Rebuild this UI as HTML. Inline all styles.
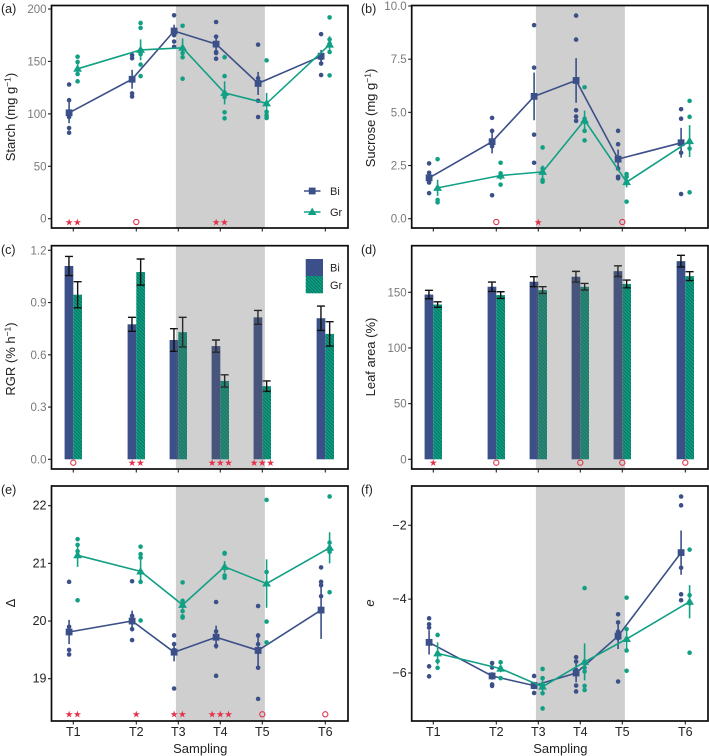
<!DOCTYPE html>
<html lang="en">
<head>
<meta charset="utf-8">
<title>Sampling time course panels</title>
<style>
html,body{margin:0;padding:0;background:#fff;width:709px;height:756px;overflow:hidden}
svg{display:block;font-family:"Liberation Sans",Arial,sans-serif;filter:blur(0.35px)}
</style>
</head>
<body>
<svg id="figure" xmlns="http://www.w3.org/2000/svg" width="709" height="756" viewBox="0 0 709 756">
<defs>
<pattern id="hatch" patternUnits="userSpaceOnUse" width="2.4" height="2.4" patternTransform="rotate(45)">
<rect width="2.4" height="2.4" fill="#0aa184"></rect>
<rect width="2.4" height="0.9" fill="#0b6e5c"></rect>
</pattern>
</defs>
</svg>
<script>
/* shared categories */
var samplingLabels = ['T1','T2','T3','T4','T5','T6'];
var samplingTimes = [1,2.5,3.5,4.5,5.5,7];

/* (a) starch */
var starchTicks = [0,50,100,150,200];
var starchBiMean = [101,133,179,166.5,129,155];
var starchBiErr = [10,9,6,8,11,6];
var starchBiPoints = [[128,113,100,97,86.5,82],[156,153,133,119.5,116.5],[194,177,175,169,164],[187.6,173.6,159,158,152.6],[166,129,134,112.5,97],[176,156,153,148,137]];
var starchGrMean = [143,161,163,120,110,166];
var starchGrErr = [5,10,9,11,10,8];
var starchGrPoints = [[154.5,149.5,142.5,138,131],[186.7,182,161,157,147,136],[184,162.5,158,154,133.5],[154,136,120,116,101.5,95.7],[151,102,99,97,96],[192,171,167,159,136.7]];
var starchSig = ['**','o','','**','',''];

/* (b) sucrose */
var sucroseTicks = [0,2.5,5,7.5,10];
var sucroseTickLabels = ['0.0','2.5','5.0','7.5','10.0'];
var sucroseBiMean = [1.92,3.62,5.75,6.5,2.8,3.57];
var sucroseBiErr = [0.2,0.55,1.12,1.05,0.45,0.7];
var sucroseBiPoints = [[2.6,2.16,1.9,1.8,1.7,1.2],[4.74,4.13,3.6,3.4,1.1],[9.1,7.1,5.75,3.95,2.63],[9.55,8.42,5.1,4.8,4.6],[4.13,3.5,2.36,1.97,1.9],[5.15,4.7,3.55,3.1,1.16]];
var sucroseGrMean = [1.45,2.03,2.2,4.63,1.72,3.65];
var sucroseGrErr = [0.38,0.2,0.3,0.45,0.25,0.75];
var sucroseGrPoints = [[2.8,1.43,0.88,0.77],[2.63,2.13,1.97,1.6],[3.35,2.36,2.2,1.82,1.74],[6.18,4.7,4.55,4.13,3.68],[2.1,1.97,1.75,0.8],[5.54,4.79,3.6,3.3,1.24]];
var sucroseSig = ['','o','*','','o',''];

/* (c) RGR */
var rgrTicks = [0,0.3,0.6,0.9,1.2];
var rgrTickLabels = ['0.0','0.3','0.6','0.9','1.2'];
var rgrBi = [1.11,0.775,0.685,0.65,0.815,0.81];
var rgrBiErr = [0.055,0.04,0.065,0.035,0.04,0.07];
var rgrGr = [0.945,1.075,0.73,0.45,0.42,0.72];
var rgrGrErr = [0.075,0.075,0.085,0.035,0.03,0.07];
var rgrSig = ['o','**','','***','***',''];

/* (d) leaf area */
var leafTicks = [0,50,100,150];
var leafBi = [148,155,159.5,164,169,178];
var leafBiErr = [3.8,4.2,4.5,4.8,4.8,5.2];
var leafGr = [139,147.5,152,155,157.5,164.5];
var leafGrErr = [2.5,3,3,3,3.5,4];
var leafSig = ['*','o','','o','o','o'];

/* (e) delta */
var deltaTicks = [19,20,21,22];
var deltaBiMean = [19.81,20,19.46,19.72,19.49,20.19];
var deltaBiErr = [0.21,0.18,0.16,0.2,0.3,0.5];
var deltaBiPoints = [[20.68,19.9,19.8,19.5,19.42],[20.69,20.09,20,19.86,19.67],[19.75,19.6,19.5,19.45,18.83],[20.33,19.82,19.7,19.57,19.05],[20.26,19.75,19.6,19.19,18.65],[20.93,20.68,20.62,20.43,20.19]];
var deltaGrMean = [21.14,20.86,20.28,20.94,20.65,21.27];
var deltaGrErr = [0.2,0.22,0.1,0.1,0.42,0.27];
var deltaGrPoints = [[21.42,21.32,21.21,21.14,20.36],[21.29,21.16,21.1,20.68,20.01],[20.67,20.35,20.27,20.17,20.08,20.06],[21.18,21.17,20.79,20.75],[22.1,20.85,19.99,19.63],[22.16,21.36,21.23,21.2,20.5]];
var deltaSig = ['**','*','**','***','o','o'];

/* (f) e */
var eTicks = [-6,-4,-2];
var eTickLabels = ['\u22126','\u22124','\u22122'];
var eBiMean = [-5.17,-6.08,-6.34,-6,-5,-2.74];
var eBiErr = [0.33,0.1,0.1,0.25,0.35,0.6];
var eBiPoints = [[-4.52,-4.68,-4.77,-5.82,-6.09],[-5.73,-5.85,-6.05,-6.1,-6.31,-6.35],[-6.08,-6.32,-6.36,-6.54],[-5.57,-5.69,-5.92,-6.34,-6.5],[-4.41,-4.63,-4.88,-5.06,-6.23],[-1.22,-1.46,-3.15,-3.87,-4.03]];
var eGrMean = [-5.47,-5.88,-6.37,-5.7,-5.08,-4.07];
var eGrErr = [0.3,0.1,0.2,0.5,0.3,0.45];
var eGrPoints = [[-4.97,-5.47,-5.68,-5.86],[-5.71,-5.87,-6.14],[-5.89,-6.14,-6.3,-6.55,-6.96],[-3.7,-5.86,-5.96,-6.35,-6.46],[-3.96,-4.81,-5.39,-5.94],[-2.66,-3.89,-4.11,-5.45]];

var BI = '#3b5088', GR = '#12a085', RED = '#e4314a';
var svg = document.getElementById('figure');
var NS = 'http://www.w3.org/2000/svg';

function make(parent, tag, attrs, text) {
  var el = document.createElementNS(NS, tag);
  for (var k in attrs) el.setAttribute(k, attrs[k]);
  if (text !== undefined) el.textContent = text;
  parent.appendChild(el);
  return el;
}

function makeAxes(left, right, top, bottom, t1x, v1, py1, v2, py2) {
  return {
    left: left, right: right, top: top, bottom: bottom,
    x: function (t) { return t1x + (t - 1) * 42; },
    y: function (v) { return py1 + (v - v1) * (py2 - py1) / (v2 - v1); }
  };
}

function panelGroup(name) {
  var g = make(svg, 'g', {});
  
  
  return g;
}

function drawShade(g, ax, fill) {
  var r = make(g, 'rect', {x: ax.x(3.5) - 2.4, y: ax.top, width: ax.x(5.5) - ax.x(3.5) + 5, height: ax.bottom - ax.top, fill: fill});
  
  
}

function drawFrame(g, ax, ticks, tickLabels, tickColor, showX) {
  ticks.forEach(function (v, i) {
    var py = ax.y(v);
    var tk = make(g, 'line', {x1: ax.left - 3.5, x2: ax.left, y1: py, y2: py, stroke: '#222', 'stroke-width': 1.1});
    
    
    var lb = make(g, 'text', {x: ax.left - 5, y: py + 4, 'text-anchor': 'end', 'font-size': tickColor === '#222' ? 12.5 : 11.5, fill: tickColor}, tickLabels ? tickLabels[i] : String(v));
    
    
  });
  samplingTimes.forEach(function (t, i) {
    var px = ax.x(t);
    var tk = make(g, 'line', {x1: px, x2: px, y1: ax.bottom, y2: ax.bottom + 3.5, stroke: '#222', 'stroke-width': 1.1});
    
    
    if (showX) {
      var lb = make(g, 'text', {x: px, y: ax.bottom + 15, 'text-anchor': 'middle', 'font-size': 12.5, fill: '#222'}, samplingLabels[i]);
      
      
    }
  });
  var f = make(g, 'rect', {x: ax.left, y: ax.top, width: ax.right - ax.left, height: ax.bottom - ax.top, fill: 'none', stroke: '#0c0c0c', 'stroke-width': 1.7});
  
  
  if (showX) {
    var st = make(g, 'text', {x: (ax.left + ax.right) / 2 + 0.5, y: ax.bottom + 32, 'text-anchor': 'middle', 'font-size': 13, fill: '#222'}, 'Sampling');
    
    
  }
}

function drawSeries(g, ax, name, color, marker, offset, means, errs, points) {
  var px = function (i) { return ax.x(samplingTimes[i]) + offset; };
  points.forEach(function (arr, i) {
    arr.forEach(function (v) {
      var c = make(g, 'circle', {cx: px(i), cy: ax.y(v), r: 2.3, fill: color});
      
      
    });
  });
  var d = means.map(function (v, i) { return px(i).toFixed(1) + ',' + ax.y(v).toFixed(1); }).join(' ');
  var pl = make(g, 'polyline', {points: d, fill: 'none', stroke: color, 'stroke-width': 1.6});
  
  
  means.forEach(function (v, i) {
    var eb = make(g, 'line', {x1: px(i), x2: px(i), y1: ax.y(v - errs[i]), y2: ax.y(v + errs[i]), stroke: color, 'stroke-width': 1.6});
    
    
    var m = drawMarker(g, marker, px(i), ax.y(v), color);
    
    
  });
}

function drawMarker(g, marker, x, y, color) {
  if (marker === 'square') {
    return make(g, 'rect', {x: x - 3.4, y: y - 3.4, width: 6.8, height: 6.8, fill: color});
  }
  return make(g, 'polygon', {points: x + ',' + (y - 4.4) + ' ' + (x + 4.4) + ',' + (y + 3) + ' ' + (x - 4.4) + ',' + (y + 3), fill: color});
}

function drawBars(g, ax, name, fill, side, vals, errs) {
  var w = 8.7;
  vals.forEach(function (v, i) {
    var cx = ax.x(samplingTimes[i]);
    var x0 = side < 0 ? cx - w : cx;
    var b = make(g, 'rect', {x: x0, y: ax.y(v), width: w, height: ax.y(0) - ax.y(v), fill: fill});
    
    
  });
}

function drawBarErrors(g, ax, name, side, vals, errs) {
  var w = 8.7;
  vals.forEach(function (v, i) {
    var mx = ax.x(samplingTimes[i]) + side * w / 2;
    var hi = ax.y(v + errs[i]), lo = ax.y(v - errs[i]);
    var path = 'M' + (mx - 4) + ' ' + hi + 'H' + (mx + 4) + 'M' + mx + ' ' + hi + 'V' + lo + 'M' + (mx - 4) + ' ' + lo + 'H' + (mx + 4);
    var e = make(g, 'path', {d: path, fill: 'none', stroke: '#111', 'stroke-width': 1.4});
    
    
  });
}

function drawSig(g, ax, sig, y) {
  sig.forEach(function (s, i) {
    var cx = ax.x(samplingTimes[i]);
    if (s === 'o') {
      var c = make(g, 'circle', {cx: cx, cy: y, r: 2.6, fill: 'none', stroke: RED, 'stroke-width': 1.1});
      
      
    } else if (s) {
      var n = s.length;
      for (var k = 0; k < n; k++) {
        var st = make(g, 'text', {x: cx + (k - (n - 1) / 2) * 8.2, y: y + 3.4, 'text-anchor': 'middle', 'font-size': 9.5, fill: RED, style: 'font-family:"DejaVu Sans",sans-serif'}, '\u2605');
        
        
      }
    }
  });
}

function drawTitle(g, x, y, build) {
  var t = make(g, 'text', {x: x, y: y, 'text-anchor': 'middle', 'font-size': 13, fill: '#222', transform: 'rotate(-90 ' + x + ' ' + y + ')'});
  
  
  build(t);
}

function titleWithUnit(before, after) {
  return function (t) {
    make(t, 'tspan', {}, before);
    make(t, 'tspan', {dy: -4.5, 'font-size': 8.5}, '\u22121');
    make(t, 'tspan', {dy: 4.5}, after);
  };
}

function plainTitle(s, italic) {
  return function (t) {
    var a = {};
    if (italic) a['font-style'] = 'italic';
    make(t, 'tspan', a, s);
  };
}

function drawLetter(g, x, y, s) {
  var t = make(g, 'text', {x: x, y: y, 'font-size': 12.5, fill: '#222'}, s);
  
  
}

function legendText(g, x, y, s) {
  var t = make(g, 'text', {x: x, y: y, 'font-size': 11, fill: '#222'}, s);
  
  
}

var OVER = 'rgba(100,100,100,0.3)';
var pg, ax;

/* panel a */
pg = panelGroup('panel-a-starch');
ax = makeAxes(51.5, 348, 5.5, 228, 73.3, 0, 218.7, 200, 9);
drawShade(pg, ax, '#cfcfcf');
drawSeries(pg, ax, 'bi', BI, 'square', -4.2, starchBiMean, starchBiErr, starchBiPoints);
drawSeries(pg, ax, 'gr', GR, 'triangle', 4.3, starchGrMean, starchGrErr, starchGrPoints);
drawSig(pg, ax, starchSig, 222);
drawFrame(pg, ax, starchTicks, null, '#7a7a7a', false);
drawTitle(pg, 15, 117, titleWithUnit('Starch (mg g', ')'));
drawLetter(pg, 1, 13, '(a)');
var lg = make(pg, 'g', {});


var l1 = make(lg, 'line', {x1: 304, x2: 320.5, y1: 191, y2: 191, stroke: BI, 'stroke-width': 1.6});


var m1 = drawMarker(lg, 'square', 312.2, 191, BI);


var l2 = make(lg, 'line', {x1: 304, x2: 320.5, y1: 212, y2: 212, stroke: GR, 'stroke-width': 1.6});


var m2 = drawMarker(lg, 'triangle', 312.2, 212, GR);


legendText(lg, 330, 195, 'Bi');
legendText(lg, 330, 216, 'Gr');

/* panel b */
pg = panelGroup('panel-b-sucrose');
ax = makeAxes(411.7, 708, 5.5, 228, 433.3, 0, 218.7, 10, 6);
drawShade(pg, ax, '#cfcfcf');
drawSeries(pg, ax, 'bi', BI, 'square', -4.2, sucroseBiMean, sucroseBiErr, sucroseBiPoints);
drawSeries(pg, ax, 'gr', GR, 'triangle', 4.3, sucroseGrMean, sucroseGrErr, sucroseGrPoints);
drawSig(pg, ax, sucroseSig, 222);
drawFrame(pg, ax, sucroseTicks, sucroseTickLabels, '#7a7a7a', false);
drawTitle(pg, 375, 118, titleWithUnit('Sucrose (mg g', ')'));
drawLetter(pg, 361, 13, '(b)');

/* panel c */
pg = panelGroup('panel-c-rgr');
ax = makeAxes(51.5, 348, 245.7, 469, 73.3, 0, 459.3, 1.2, 250.3);
drawBars(pg, ax, 'bi', BI, -1, rgrBi, rgrBiErr);
drawBars(pg, ax, 'gr', 'url(#hatch)', 1, rgrGr, rgrGrErr);
drawBarErrors(pg, ax, 'bi', -1, rgrBi, rgrBiErr);
drawBarErrors(pg, ax, 'gr', 1, rgrGr, rgrGrErr);
drawShade(pg, ax, OVER);
drawSig(pg, ax, rgrSig, 462.7);
drawFrame(pg, ax, rgrTicks, rgrTickLabels, '#7a7a7a', false);
var r1 = make(pg, 'rect', {x: 305.7, y: 259, width: 17.3, height: 17, fill: BI});


var r2 = make(pg, 'rect', {x: 305.7, y: 276, width: 17.3, height: 17.3, fill: 'url(#hatch)'});


legendText(pg, 330, 271.5, 'Bi');
legendText(pg, 330, 289, 'Gr');
drawTitle(pg, 15, 359, titleWithUnit('RGR (% h', ')'));
drawLetter(pg, 1, 254, '(c)');

/* panel d */
pg = panelGroup('panel-d-leaf-area');
ax = makeAxes(411.7, 708, 245.7, 469, 433.3, 0, 459.3, 150, 292.3);
drawBars(pg, ax, 'bi', BI, -1, leafBi, leafBiErr);
drawBars(pg, ax, 'gr', 'url(#hatch)', 1, leafGr, leafGrErr);
drawBarErrors(pg, ax, 'bi', -1, leafBi, leafBiErr);
drawBarErrors(pg, ax, 'gr', 1, leafGr, leafGrErr);
drawShade(pg, ax, OVER);
drawSig(pg, ax, leafSig, 462.7);
drawFrame(pg, ax, leafTicks, null, '#7a7a7a', false);
drawTitle(pg, 375, 357, plainTitle('Leaf area (%)'));
drawLetter(pg, 361, 254, '(d)');

/* panel e */
pg = panelGroup('panel-e-delta');
ax = makeAxes(51.5, 348, 486, 721, 73.3, 19, 678.7, 22, 505.7);
drawShade(pg, ax, '#cfcfcf');
drawSeries(pg, ax, 'bi', BI, 'square', -4.2, deltaBiMean, deltaBiErr, deltaBiPoints);
drawSeries(pg, ax, 'gr', GR, 'triangle', 4.3, deltaGrMean, deltaGrErr, deltaGrPoints);
drawSig(pg, ax, deltaSig, 714.3);
drawFrame(pg, ax, deltaTicks, null, '#222', true);
drawTitle(pg, 15, 603, plainTitle('\u0394'));
drawLetter(pg, 1, 494, '(e)');

/* panel f */
pg = panelGroup('panel-f-e');
ax = makeAxes(411.7, 708, 486, 721, 433.3, -2, 525.3, -6, 673);
drawShade(pg, ax, '#cfcfcf');
drawSeries(pg, ax, 'bi', BI, 'square', -4.2, eBiMean, eBiErr, eBiPoints);
drawSeries(pg, ax, 'gr', GR, 'triangle', 4.3, eGrMean, eGrErr, eGrPoints);
drawFrame(pg, ax, eTicks, eTickLabels, '#222', true);
drawTitle(pg, 374, 603, plainTitle('e', true));
drawLetter(pg, 361, 494, '(f)');
</script>
</body>
</html>
